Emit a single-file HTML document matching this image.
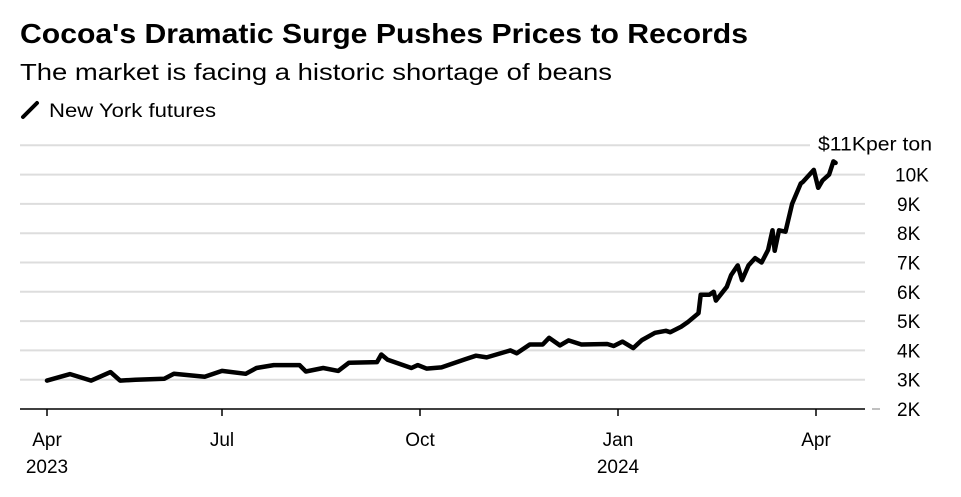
<!DOCTYPE html>
<html><head><meta charset="utf-8"><style>
body{margin:0;background:#fff;font-family:"Liberation Sans",sans-serif;}
</style></head><body>
<svg width="961" height="492" viewBox="0 0 961 492" id="c" font-family="Liberation Sans, sans-serif">
<text x="20" y="43" font-size="28" font-weight="bold" fill="#000" textLength="728" lengthAdjust="spacingAndGlyphs">Cocoa's Dramatic Surge Pushes Prices to Records</text>
<text x="20" y="80" font-size="23" fill="#000" textLength="592" lengthAdjust="spacingAndGlyphs">The market is facing a historic shortage of beans</text>
<g>
<line x1="23" y1="117" x2="37" y2="103" stroke="#000" stroke-width="4" stroke-linecap="round"/>
<text x="49" y="117" font-size="19" fill="#000" textLength="167" lengthAdjust="spacingAndGlyphs">New York futures</text>
</g>
<g id="grid"></g><g id="axes"></g><path id="line" fill="none" stroke="#000" stroke-width="4.5" stroke-linejoin="round" stroke-linecap="round"/>
</svg>
<script>
const daysSinceApr2023=[0,12,23,33,38,46,61,66,82,91,102,107,115,127,130,138,145,150,163,165,168,179,182,186,193,204,209,214,225,228,234,240,243,248,252,258,270,273,277,282,286,292,297,299,304,307,312,313,317,319,320,325,327,330,332,335,338,341,344,346,347,349,352,355,359,360,365,367,369,372,374,375];
const priceK=[2.97,3.19,2.97,3.26,2.97,3.0,3.03,3.2,3.1,3.3,3.2,3.4,3.5,3.5,3.28,3.4,3.3,3.58,3.6,3.86,3.68,3.4,3.5,3.38,3.42,3.7,3.82,3.76,4.0,3.9,4.2,4.2,4.43,4.17,4.34,4.2,4.22,4.15,4.3,4.08,4.35,4.6,4.67,4.62,4.81,4.96,5.27,5.9,5.9,6.0,5.7,6.17,6.57,6.9,6.4,6.9,7.15,7.0,7.43,8.1,7.4,8.1,8.05,9.0,9.7,9.75,10.16,9.55,9.8,10.0,10.45,10.4];
const yTicks=[2,3,4,5,6,7,8,9,10,11];
const yTickLabels=["2K","3K","4K","5K","6K","7K","8K","9K","10K","$11K"];
const xTickDays=[0,91,183,275,366];
const xTickLabels=[["Apr","2023"],["Jul",""],["Oct",""],["Jan","2024"],["Apr",""]];
const NS="http://www.w3.org/2000/svg";
const xTickPx=[47,222,420,618,816];
function x(d){
 for(let i=0;i<xTickDays.length-1;i++){
  if(d<=xTickDays[i+1]||i==xTickDays.length-2){
   const t=(d-xTickDays[i])/(xTickDays[i+1]-xTickDays[i]);
   return xTickPx[i]+t*(xTickPx[i+1]-xTickPx[i]);
  }
 }
}
const y=v=>409-(v-2)*29.3;
function mk(t,a,p){const e=document.createElementNS(NS,t);for(const k in a)e.setAttribute(k,a[k]);p.appendChild(e);return e;}
const grid=document.getElementById('grid'),axes=document.getElementById('axes');
yTicks.forEach((v,i)=>{
 const last=i==yTicks.length-1;
 if(v>2){const l=mk('line',{x1:20,x2:last?810:865,y1:y(v),y2:y(v),stroke:'#ddd','stroke-width':2},grid);
 
 }
 else{mk('line',{x1:872,x2:880,y1:y(v),y2:y(v),stroke:'#aaa','stroke-width':1.5},axes);}
 const t=mk('text',{x:last?818:(v>=10?895:897),y:y(v)+(last?5:7),'font-size':19,fill:'#000'},axes);
 t.textContent=yTickLabels[i]+(last?'per ton':'');
 if(last){t.setAttribute('textLength','114');t.setAttribute('lengthAdjust','spacingAndGlyphs');}
 
 
});
const ax=mk('line',{x1:20,x2:865,y1:409,y2:409,stroke:'#000','stroke-width':1.5},axes);


xTickDays.forEach((d,i)=>{
 mk('line',{x1:x(d),x2:x(d),y1:409,y2:416,stroke:'#000','stroke-width':1.5},axes);
 const t=mk('text',{x:x(d),y:446,'font-size':19,'text-anchor':'middle',fill:'#000'},axes);
 t.textContent=xTickLabels[i][0];
 
 
 if(xTickLabels[i][1]){const t2=mk('text',{x:x(d),y:473,'font-size':19,'text-anchor':'middle',fill:'#000'},axes);
 t2.textContent=xTickLabels[i][1];
 
 }
});
document.getElementById('line').setAttribute('d',daysSinceApr2023.map((d,i)=>(i?'L':'M')+x(d).toFixed(1)+','+y(priceK[i]).toFixed(1)).join(''));
</script>
</body></html>
